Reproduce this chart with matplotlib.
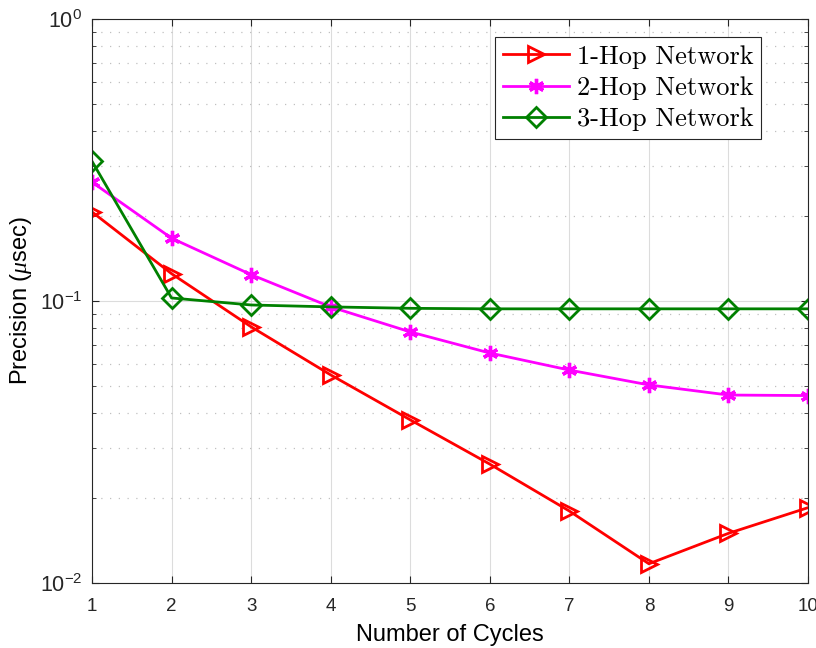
import matplotlib.pyplot as plt
from matplotlib.ticker import LogLocator, NullFormatter

plt.rcParams['font.family'] = ['Liberation Sans', 'DejaVu Sans']
plt.rcParams['mathtext.fontset'] = 'custom'
plt.rcParams['mathtext.rm'] = 'Liberation Sans'
plt.rcParams['mathtext.it'] = 'Liberation Serif:italic'

# datos
ciclos = [1, 2, 3, 4, 5, 6, 7, 8, 9, 10]
hop1 = [0.207, 0.125, 0.081, 0.0547, 0.0379, 0.0264, 0.018, 0.0117, 0.0150, 0.0185]
hop2 = [0.264, 0.167, 0.124, 0.0953, 0.0777, 0.0654, 0.0569, 0.0504, 0.0464, 0.0462]
hop3 = [0.313, 0.1025, 0.0968, 0.0953, 0.0942, 0.0938, 0.0938, 0.0938, 0.0938, 0.0938]
etiquetas = ['1-Hop Network', '2-Hop Network', '3-Hop Network']

fig = plt.figure(figsize=(8.16, 6.48), dpi=100)
ax = fig.add_axes([92 / 816, 1 - 583 / 648, (808 - 92) / 816, (583 - 19) / 648])

ax.semilogy(ciclos, hop1, color='red', marker='>', markersize=12, markerfacecolor='none',
            markeredgewidth=2, linewidth=2, label=etiquetas[0])
ax.semilogy(ciclos, hop2, color='magenta', marker=(6, 2, 0), markersize=11,
            markeredgewidth=2.4, linewidth=2, label=etiquetas[1])
ax.semilogy(ciclos, hop3, color='green', marker='D', markersize=10, markerfacecolor='none',
            markeredgewidth=2, linewidth=2, label=etiquetas[2])

ax.set_xlim(1, 10)
ax.set_ylim(1e-2, 1)
ax.set_xticks(ciclos)
ax.yaxis.set_minor_locator(LogLocator(base=10, subs=range(2, 10)))
ax.yaxis.set_minor_formatter(NullFormatter())

ax.grid(True, which='major', color='#dcdcdc', linestyle='-', linewidth=0.8)
ax.grid(True, which='minor', axis='y', color='#c0c0c0', linestyle=(0, (1, 6)), linewidth=0.9)
ax.set_axisbelow(True)

ax.tick_params(which='both', direction='in', top=True, right=True, labelsize=13.5, colors='#262626')
ax.tick_params(which='major', length=5)
ax.tick_params(which='minor', length=3)
ax.tick_params(axis='x', pad=11)
ax.tick_params(axis='y', pad=7, labelsize=15.5)
for s in ax.spines.values():
    s.set_color('#262626')
    s.set_linewidth(0.8)

ax.set_xlabel('Number of Cycles', fontsize=17, labelpad=6)
ax.set_ylabel(r'Precision ($\mu$sec)', fontsize=17, labelpad=4)

leg = ax.legend(loc='upper right', bbox_to_anchor=(0.935, 0.968), prop={'family': 'cmr10', 'size': 19},
                fancybox=False, edgecolor='#262626', framealpha=1, handlelength=2.5,
                borderpad=0.3, labelspacing=0.28, handletextpad=0.3, borderaxespad=0)
leg.get_frame().set_linewidth(0.8)

fig.savefig('out.png', dpi=100)
